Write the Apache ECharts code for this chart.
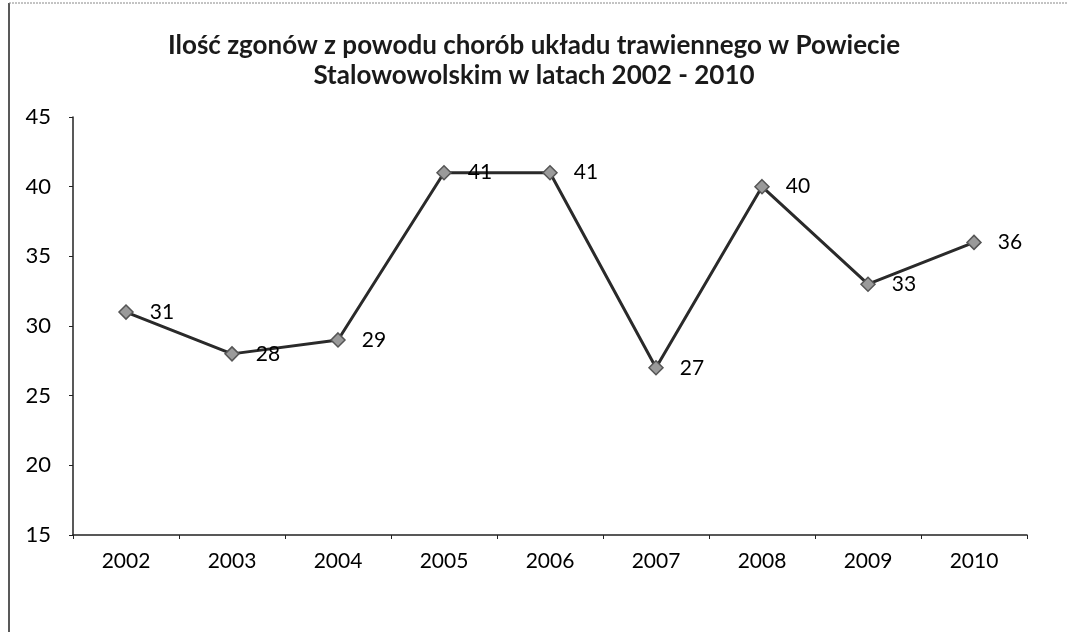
<!DOCTYPE html>
<html>
<head>
<meta charset="utf-8">
<script src="https://cdn.jsdelivr.net/npm/echarts@6/dist/echarts.min.js"></script>
<style>
  html, body { margin: 0; padding: 0; background: #fff; }
  #chart { width: 1068px; height: 632px; }
</style>
</head>
<body>
<div id="chart"></div>
<script>
// dane z wykresu
var years = ['2002', '2003', '2004', '2005', '2006', '2007', '2008', '2009', '2010'];
var deaths = [31, 28, 29, 41, 41, 27, 40, 33, 36];
var yTicks = { min: 15, max: 45, step: 5 };
var titleText = 'Ilość zgonów z powodu chorób układu trawiennego w Powiecie\nStalowowolskim w latach 2002 - 2010';

var font = 'Lato, "Open Sans", sans-serif';

var option = {
    animation: false,
    backgroundColor: '#fff',
    title: {
        text: titleText,
        left: 'center',
        top: 26,
        textStyle: {
            fontFamily: font,
            fontSize: 26,
            fontWeight: 'bold',
            color: '#1a1a1a',
            lineHeight: 30
        }
    },
    grid: {
        left: 73,
        right: 41,
        top: 117,
        bottom: 97,
        containLabel: false
    },
    xAxis: {
        type: 'category',
        data: years,
        boundaryGap: true,
        axisLine: { lineStyle: { color: '#222', width: 1.5 } },
        axisTick: { show: true, length: 4, lineStyle: { color: '#222' } },
        axisLabel: {
            fontFamily: font,
            fontSize: 21,
            color: '#000',
            margin: 16
        }
    },
    yAxis: {
        type: 'value',
        min: yTicks.min,
        max: yTicks.max,
        interval: yTicks.step,
        axisLine: { show: true, lineStyle: { color: '#222', width: 1.5 } },
        axisTick: { show: true, length: 4, lineStyle: { color: '#222' } },
        splitLine: { show: false },
        axisLabel: {
            fontFamily: font,
            fontSize: 22,
            color: '#000',
            margin: 22
        }
    },
    series: [{
        type: 'line',
        data: deaths,
        symbol: 'diamond',
        symbolSize: 14,
        lineStyle: { color: '#2a2a2a', width: 3 },
        itemStyle: { color: '#9a9a9a', borderColor: '#555', borderWidth: 1.5 },
        label: {
            show: true,
            position: 'right',
            distance: 16,
            fontFamily: font,
            fontSize: 21,
            color: '#000'
        }
    }],
    graphic: [
        { type: 'line', shape: { x1: 9, y1: 3, x2: 9, y2: 632 }, style: { stroke: '#222', lineWidth: 1.5 } },
        { type: 'line', shape: { x1: 9, y1: 3, x2: 1068, y2: 3 }, style: { stroke: '#888', lineWidth: 1, lineDash: [2, 1] } }
    ]
};

var myChart = echarts.init(document.getElementById('chart'));
myChart.setOption(option);
</script>
</body>
</html>
